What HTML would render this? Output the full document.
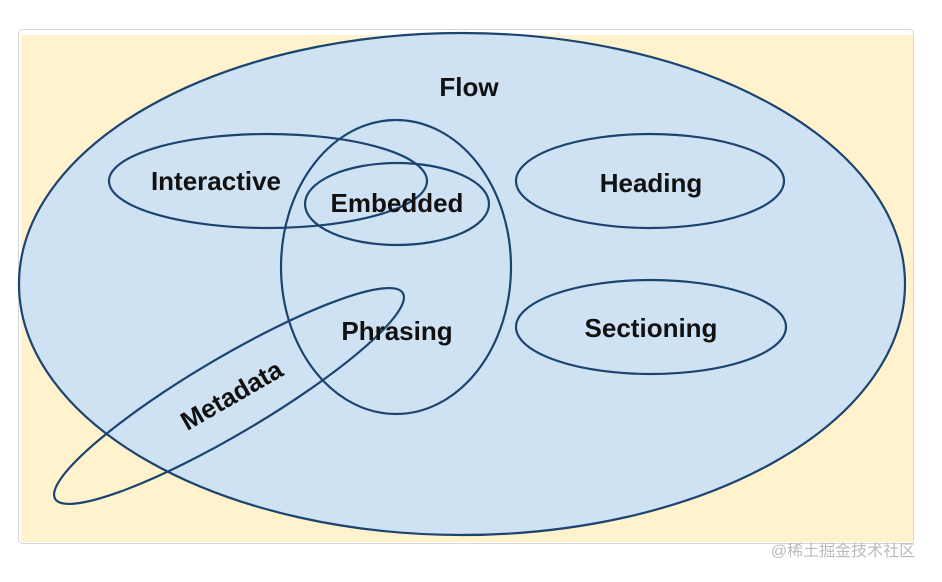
<!DOCTYPE html>
<html><head><meta charset="utf-8"><style>
body{margin:0;background:#fff;width:942px;height:577px;overflow:hidden;font-family:"Liberation Sans",sans-serif}
</style></head><body>
<svg width="942" height="577" viewBox="0 0 942 577" xmlns="http://www.w3.org/2000/svg">
<rect x="18.5" y="29.5" width="895" height="514" rx="4" fill="#fff" stroke="#d6d6d6"/>
<rect x="21" y="35" width="892" height="507" fill="#fff2cc"/>
<g stroke="#1c4470" stroke-width="2.2" fill="none">
<ellipse cx="462" cy="284" rx="443" ry="251" fill="#cfe2f3"/>
<ellipse cx="268" cy="181" rx="159" ry="47"/>
<ellipse cx="397" cy="204" rx="92" ry="41"/>
<ellipse cx="396" cy="267" rx="115" ry="147"/>
<ellipse cx="650" cy="181" rx="134" ry="47"/>
<ellipse cx="651" cy="327" rx="135" ry="47"/>
<ellipse cx="229" cy="396" rx="202" ry="38" transform="rotate(-30.6 229 396)"/>
</g>
<g font-family="Liberation Sans, sans-serif" font-weight="bold" font-size="26" fill="#111" text-anchor="middle">
<text x="469" y="96">Flow</text>
<text x="216" y="190">Interactive</text>
<text x="397" y="212">Embedded</text>
<text x="397" y="340">Phrasing</text>
<text x="651" y="192">Heading</text>
<text x="651" y="337">Sectioning</text>
<text x="232" y="404" transform="rotate(-30 232 396)">Metadata</text>
</g>
<text x="843" y="556" font-family="Liberation Sans, Noto Sans CJK SC, sans-serif" font-size="16" fill="#bbb" text-anchor="middle">@稀土掘金技术社区</text>
</svg>
</body></html>
